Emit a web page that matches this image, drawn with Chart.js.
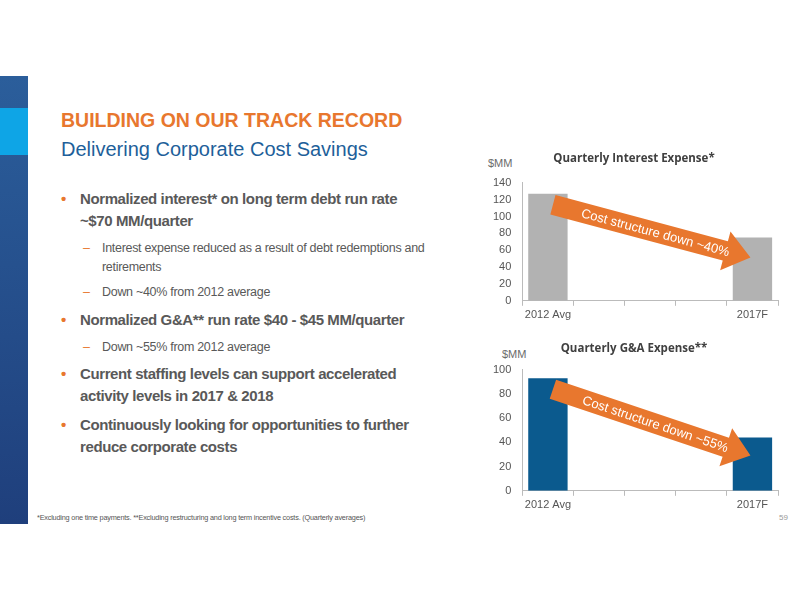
<!DOCTYPE html>
<html><head><meta charset="utf-8">
<script src="https://cdn.jsdelivr.net/npm/chart.js@4"></script>
<style>
body{margin:0;width:800px;height:600px;background:#fff;font-family:"Liberation Sans",Arial,sans-serif;position:relative;overflow:hidden}
.band{position:absolute;left:0;top:76px;width:28px;height:448px;background:linear-gradient(#2b5e9b,#1f3f7c)}
.patch{position:absolute;left:0;top:108px;width:28px;height:47px;background:#0ea5e6}
h1{position:absolute;left:61px;top:109px;margin:0;font-size:19.5px;color:#e8772e;font-weight:bold}
h2{position:absolute;left:61px;top:138px;margin:0;font-size:20px;color:#1e5f9a;font-weight:normal}
ul{position:absolute;left:61px;top:188px;margin:0;padding:0;list-style:none;width:400px;color:#595959}
li{position:relative;padding-left:19px}
li.b{font-weight:bold;font-size:15px;letter-spacing:-0.4px;line-height:22px;margin-bottom:7px;padding-right:30px}
li.b:before{content:"•";color:#e8772e;position:absolute;left:0}
li.s{font-size:12.5px;letter-spacing:-0.3px;line-height:18.5px;margin-left:22px;margin-bottom:7px}
li.s:before{content:"–";color:#e8772e;position:absolute;left:0}
.foot{position:absolute;left:37px;top:513px;font-size:7.3px;color:#555;letter-spacing:-0.2px}
.pg{position:absolute;left:779px;top:513px;font-size:8px;color:#999}
.mm{position:absolute;font-size:11px;color:#6b6b6b}
canvas{position:absolute}
</style></head><body>
<div class="band"></div><div class="patch"></div>
<h1>BUILDING ON OUR TRACK RECORD</h1>
<h2>Delivering Corporate Cost Savings</h2>
<ul>
<li class="b">Normalized interest* on long term debt run rate ~$70 MM/quarter</li>
<li class="s">Interest expense reduced as a result of debt redemptions and retirements</li>
<li class="s">Down ~40% from 2012 average</li>
<li class="b">Normalized G&amp;A** run rate $40 - $45 MM/quarter</li>
<li class="s">Down ~55% from 2012 average</li>
<li class="b">Current staffing levels can support accelerated activity levels in 2017 &amp; 2018</li>
<li class="b">Continuously looking for opportunities to further reduce corporate costs</li>
</ul>
<div class="foot">*Excluding one time payments. **Excluding restructuring and long term incentive costs. (Quarterly averages)</div>
<div class="pg">59</div>
<div class="mm" style="left:488px;top:157px">$MM</div>
<div class="mm" style="left:502px;top:348px">$MM</div>
<div style="position:absolute;left:470px;top:150px;width:320px;height:175px"><canvas id="c1"></canvas></div>
<div style="position:absolute;left:470px;top:340px;width:320px;height:175px"><canvas id="c2"></canvas></div>
<script>
const categories = ['2012 Avg', '', '', '', '2017F'];
const interestValues = [127, null, null, null, 75];
const gaValues = [93, null, null, null, 44];
const interestTicks = [0, 20, 40, 60, 80, 100, 120, 140];
const gaTicks = [0, 20, 40, 60, 80, 100];

const arrowPlugin = {
  id: 'arrow',
  afterDatasetsDraw(chart, args, opts) {
    const c = chart.ctx, x = chart.scales.x, y = chart.scales.y;
    const vals = chart.data.datasets[0].data;
    const x0 = x.getPixelForValue(0) + 5, y0 = y.getPixelForValue(vals[0]) + 11;
    const x1 = x.getPixelForValue(4) - 2, y1 = y.getPixelForValue(vals[4]) + opts.dy;
    const ang = Math.atan2(y1 - y0, x1 - x0), len = Math.hypot(x1 - x0, y1 - y0);
    c.save();
    c.translate(x0, y0); c.rotate(ang);
    c.fillStyle = '#e8772e';
    c.beginPath();
    c.moveTo(0, -10); c.lineTo(len - 26, -10); c.lineTo(len - 26, -20); c.lineTo(len, 0);
    c.lineTo(len - 26, 20); c.lineTo(len - 26, 10); c.lineTo(0, 10); c.closePath(); c.fill();
    c.fillStyle = '#fff'; c.font = '13px "Liberation Sans", Arial'; c.textAlign = 'center'; c.textBaseline = 'middle';
    c.fillText(opts.text, len / 2 + 4, 1);
    c.restore();
  }
};

function makeChart(id, values, ticks, max, color, title, text, dy, pad) {
  new Chart(document.getElementById(id), {
    type: 'bar',
    data: { labels: categories, datasets: [{ data: values, backgroundColor: color, barPercentage: 0.77, categoryPercentage: 1 }] },
    options: {
      responsive: true, maintainAspectRatio: false, animation: false,
      layout: { padding: { left: 20, right: 12, top: 0, bottom: 0 } },
      plugins: {
        legend: { display: false }, tooltip: { enabled: false },
        title: { display: true, text: title, color: '#404040', font: { family: 'Open Sans', size: 11.5, weight: 'bold' }, padding: { top: 2, bottom: pad } },
        arrow: { text: text, dy: dy }
      },
      scales: {
        x: { grid: { display: true, drawOnChartArea: false, offset: true, tickLength: 5, color: '#bbb' }, border: { color: '#bbb' },
             ticks: { color: '#555', font: { size: 11 }, maxRotation: 0, autoSkip: false } },
        y: { min: 0, max: max, afterBuildTicks: s => { s.ticks = ticks.map(v => ({ value: v })); },
             grid: { display: false }, border: { color: '#bbb' }, ticks: { color: '#555', font: { size: 11 } } }
      }
    },
    plugins: [arrowPlugin]
  });
}
makeChart('c1', interestValues, interestTicks, 140, '#b2b2b2', 'Quarterly Interest Expense*', 'Cost structure down ~40%', 20, 17);
makeChart('c2', gaValues, gaTicks, 100, '#0b5a8e', 'Quarterly G&A Expense**', 'Cost structure down ~55%', 18, 14);
</script>
</body></html>
